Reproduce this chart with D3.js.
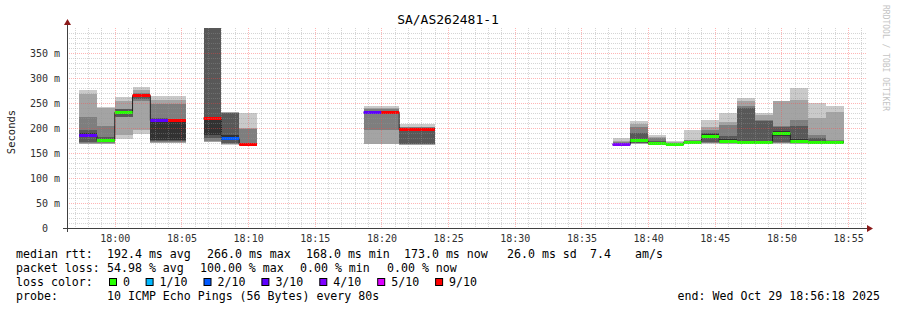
<!DOCTYPE html>
<meta charset="utf-8">
<html>
<script src="https://d3js.org/d3.v7.min.js"></script>
<body style="margin:0;background:#fff">
<div id="chart"></div>
<script>

// plot box (pixels)
var width = 897, height = 310;
var plotL = 67, plotR = 867, plotT = 28, plotB = 228;

// time window and rrd step
var tStart = new Date(2025, 9, 29, 17, 56, 25);
var tEnd = new Date(2025, 9, 29, 18, 56, 25);
var firstStep = new Date(2025, 9, 29, 17, 57, 20);
var stepSec = 80;

// median rtt per step (ms), null = no answer
var medianRtt = [187, 176, 232, 266, 217, 217, null, 221, 181, 168,
  null, null, null, null, null, null,
  232, 232, 199, 199,
  null, null, null, null, null, null, null, null, null, null,
  169, 176, 171, 168, 173, 184, 175, 173, 173, 191, 175, 173, 173];

// lost pings per step (out of 10)
var lossTenths = [3, 0, 0, 9, 3, 9, null, 9, 2, 9,
  null, null, null, null, null, null,
  3, 9, 9, 9,
  null, null, null, null, null, null, null, null, null, null,
  4, 0, 0, 0, 0, 0, 0, 0, 0, 0, 0, 0, 0];

// the 10 sorted ping times per step (ms), drawn as smoke
var pings = [
  [168, 169, 170, 172, 184, 190, 196, 223, 268, 277],
  [168, 169, 170, 172, 175, 178, 183, 204, 240, 243],
  [179, 186, 222, 223, 230, 233, 238, 239, 255, 263],
  [188, 196, 255, 258, 265, 267, 269, 271, 277, 282],
  [170, 171, 173, 175, 177, 214, 220, 249, 256, 264],
  [170, 171, 172, 175, 177, 215, 218, 248, 256, 264],
  null,
  [172, 173, 175, 180, 186, 221, 420, 450, 480, 500],
  [167, 168, 169, 170, 176, 186, 230, 231, 232, 233],
  [167, 168, 168, 168, 168, 169, 169, 199, 201, 230],
  null, null, null, null, null, null,
  [168, 169, 197, 229, 231, 233, 235, 238, 240, 245],
  [168, 169, 197, 229, 231, 233, 235, 238, 241, 245],
  [167, 167, 168, 168, 198, 200, 201, 202, 203, 208],
  [167, 167, 168, 168, 198, 200, 201, 202, 203, 208],
  null, null, null, null, null, null, null, null, null, null,
  [166, 167, 168, 168, 169, 170, 171, 172, 174, 181],
  [168, 169, 170, 171, 172, 178, 190, 203, 209, 215],
  [167, 168, 169, 170, 170, 172, 174, 180, 183, 187],
  [167, 167, 168, 168, 169, 169, 170, 171, 172, 174],
  [168, 169, 170, 171, 172, 174, 175, 176, 177, 196],
  [169, 170, 171, 172, 180, 188, 190, 196, 203, 216],
  [168, 169, 170, 171, 172, 178, 185, 207, 213, 231],
  [168, 169, 170, 171, 172, 174, 240, 244, 254, 261],
  [168, 169, 170, 171, 172, 174, 215, 217, 226, 231],
  [169, 170, 171, 172, 185, 195, 203, 204, 254, 255],
  [168, 169, 170, 171, 172, 178, 204, 216, 256, 281],
  [168, 169, 170, 171, 172, 174, 180, 186, 221, 251],
  [168, 169, 170, 171, 172, 174, 175, 176, 233, 244]
];

// y ticks (ms)
var yTicks = [0, 50, 100, 150, 200, 250, 300, 350];

// loss legend
var lossKeys = [0, 1, 2, 3, 4, 5, 9];
var lossLabels = ["0", "1/10", "2/10", "3/10", "4/10", "5/10", "9/10"];
var lossColors = ["#26ff00", "#00b8ff", "#0059ff", "#5e00ff", "#7e00ff", "#dd00ff", "#ff0000"];

// smoke shades, outer pair first
var smokeShades = ["#cacaca", "#a4a4a4", "#7e7e7e", "#585858", "#323232"];

var mono = "DejaVu Sans Mono";

var svg = d3.select("#chart")
  .append("svg")
    .attr("width", width)
    .attr("height", height)
    .style("display", "block");

svg.append("rect").attr("width", width).attr("height", height).attr("fill", "#ffffff");

var x = d3.scaleTime().domain([tStart, tEnd]).range([plotL, plotR]);
var y = d3.scaleLinear().domain([0, 400]).range([plotB, plotT]);

var lossColor = d3.scaleOrdinal().domain(lossKeys).range(lossColors);

svg.append("clipPath").attr("id", "plotclip")
  .append("rect")
    .attr("x", plotL).attr("y", plotT)
    .attr("width", plotR - plotL).attr("height", plotB - plotT);

var steps = medianRtt.map(function(m, i) {
  var s = new Date(firstStep.getTime() + i * stepSec * 1000);
  var e = new Date(s.getTime() + stepSec * 1000);
  return {start: s, end: e, median: m, loss: lossTenths[i], pings: pings[i]};
});

var plot = svg.append("g").attr("clip-path", "url(#plotclip)");

// smoke: nested pairs (p0,p9) (p1,p8) ... darker toward the middle
smokeShades.forEach(function(shade, i) {
  plot.append("g").selectAll("rect")
    .data(steps.filter(function(d) { return d.pings; }))
    .enter().append("rect")
      .attr("x", function(d) { return x(d.start); })
      .attr("width", function(d) { return x(d.end) - x(d.start); })
      .attr("y", function(d) { return y(d.pings[9 - i]); })
      .attr("height", function(d) { return y(d.pings[i]) - y(d.pings[9 - i]); })
      .attr("fill", shade)
      .attr("shape-rendering", "crispEdges");
});

// black median line with the vertical joins
var medPts = [];
steps.forEach(function(d, i) {
  if (d.median == null) { medPts.push(null); return; }
  medPts.push({t: d.start, v: d.median});
  var nxt = steps[i + 1];
  if (!nxt || nxt.median == null) medPts.push({t: d.end, v: d.median});
});
var medLine = d3.line()
  .defined(function(d) { return d != null; })
  .x(function(d) { return x(d.t); })
  .y(function(d) { return Math.round(y(d.v)) + 0.5; })
  .curve(d3.curveStepAfter);
plot.append("path")
  .attr("d", medLine(medPts))
  .attr("fill", "none")
  .attr("stroke", "#202020")
  .attr("stroke-width", 1);

// coloured median per step (loss colour)
plot.append("g").selectAll("line")
  .data(steps.filter(function(d) { return d.median != null; }))
  .enter().append("line")
    .attr("x1", function(d) { return x(d.start); })
    .attr("x2", function(d) { return x(d.end); })
    .attr("y1", function(d) { return Math.round(y(d.median)) + 0.5; })
    .attr("y2", function(d) { return Math.round(y(d.median)) + 0.5; })
    .attr("stroke", function(d) { return lossColor(d.loss); })
    .attr("stroke-width", 3);

// grid on top
var minorCol = "rgba(150,150,150,0.4)", majorCol = "rgba(255,70,70,0.4)";
var grid = svg.append("g").attr("shape-rendering", "crispEdges");
var minorTimes = d3.timeMinute.range(tStart, tEnd);
grid.selectAll("line.vmin")
  .data(minorTimes.filter(function(t) { return t.getMinutes() % 5 != 0; }))
  .enter().append("line")
    .attr("x1", function(d) { return Math.round(x(d)) + 0.5; })
    .attr("x2", function(d) { return Math.round(x(d)) + 0.5; })
    .attr("y1", plotT).attr("y2", plotB)
    .attr("stroke", minorCol)
    .attr("stroke-dasharray", "1,1");
grid.selectAll("line.vmaj")
  .data(minorTimes.filter(function(t) { return t.getMinutes() % 5 == 0; }))
  .enter().append("line")
    .attr("x1", function(d) { return Math.round(x(d)) + 0.5; })
    .attr("x2", function(d) { return Math.round(x(d)) + 0.5; })
    .attr("y1", plotT).attr("y2", plotB)
    .attr("stroke", majorCol)
    .attr("stroke-dasharray", "1,1");
var hMinor = d3.range(10, 401, 10).filter(function(v) { return v % 50 != 0; });
grid.selectAll("line.hmin")
  .data(hMinor)
  .enter().append("line")
    .attr("x1", plotL).attr("x2", plotR)
    .attr("y1", function(d) { return Math.round(y(d)) + 0.5; })
    .attr("y2", function(d) { return Math.round(y(d)) + 0.5; })
    .attr("stroke", minorCol)
    .attr("stroke-dasharray", "1,1");
grid.selectAll("line.hmaj")
  .data(yTicks.filter(function(v) { return v > 0; }))
  .enter().append("line")
    .attr("x1", plotL).attr("x2", plotR)
    .attr("y1", function(d) { return Math.round(y(d)) + 0.5; })
    .attr("y2", function(d) { return Math.round(y(d)) + 0.5; })
    .attr("stroke", majorCol)
    .attr("stroke-dasharray", "1,1");

// axes lines and arrows
svg.append("line")
  .attr("x1", plotL - 4).attr("x2", plotR + 2)
  .attr("y1", plotB + 0.5).attr("y2", plotB + 0.5)
  .attr("stroke", "#404040");
svg.append("line")
  .attr("x1", plotL + 0.5).attr("x2", plotL + 0.5)
  .attr("y1", plotB + 4).attr("y2", plotT - 5)
  .attr("stroke", "#404040");
svg.append("path")
  .attr("d", "M" + (plotL + 0.5) + "," + (plotT - 9) + "l-3.5,6h7z")
  .attr("fill", "#8b1a1a");
svg.append("path")
  .attr("d", "M" + (plotR + 6) + "," + (plotB + 0.5) + "l-6,-3.5v7z")
  .attr("fill", "#8b1a1a");

// x axis labels
var xAxis = d3.axisBottom(x)
  .ticks(d3.timeMinute.every(5))
  .tickFormat(d3.timeFormat("%H:%M"))
  .tickSize(0)
  .tickPadding(0);
var gx = svg.append("g")
  .attr("transform", "translate(0," + (plotB + 10) + ")")
  .call(xAxis);
gx.select(".domain").remove();
gx.selectAll("text")
  .attr("dy", "0.36em")
  .attr("font-family", mono)
  .attr("font-size", 10)
  .attr("fill", "#303030");

// y axis labels
var yAxis = d3.axisLeft(y)
  .tickValues(yTicks)
  .tickFormat(function(d) { return d == 0 ? "0" : d + " m"; })
  .tickSize(0)
  .tickPadding(0);
var gy = svg.append("g")
  .attr("transform", "translate(" + (plotL - 7) + ",0)")
  .call(yAxis);
gy.select(".domain").remove();
gy.selectAll("text")
  .attr("dy", "0.36em")
  .attr("dx", function(d) { return d == 0 ? -12 : 0; })
  .attr("font-family", mono)
  .attr("font-size", 10)
  .attr("fill", "#303030");

// title
svg.append("text")
  .attr("x", 448).attr("y", 24)
  .attr("text-anchor", "middle")
  .attr("font-family", mono)
  .attr("font-size", 13)
  .attr("fill", "#000")
  .text("SA/AS262481-1");

svg.append("text")
  .attr("transform", "translate(15,132) rotate(-90)")
  .attr("text-anchor", "middle")
  .attr("font-family", mono)
  .attr("font-size", 10.5)
  .attr("fill", "#202020")
  .text("Seconds");

svg.append("text")
  .attr("transform", "translate(883,5) rotate(90)")
  .attr("font-family", mono)
  .attr("font-size", 8)
  .attr("fill", "#c4c4c4")
  .text("RRDTOOL / TOBI OETIKER");

// legend
function legendText(xp, yp, s) {
  svg.append("text")
    .attr("x", xp).attr("y", yp)
    .attr("font-family", mono)
    .attr("font-size", 11.6)
    .attr("fill", "#000")
    .style("white-space", "pre")
    .text(s);
}
legendText(16, 258, "median rtt:");
legendText(107, 258, "192.4 ms avg");
legendText(207, 258, "266.0 ms max");
legendText(306, 258, "168.0 ms min");
legendText(404, 258, "173.0 ms now");
legendText(507, 258, "26.0 ms sd");
legendText(590, 258, "7.4");
legendText(635, 258, "am/s");

legendText(16, 272, "packet loss:");
legendText(107, 272, "54.98 % avg");
legendText(200, 272, "100.00 % max");
legendText(300, 272, "0.00 % min");
legendText(387, 272, "0.00 % now");

legendText(16, 286, "loss color:");
var bx = 109;
lossLabels.forEach(function(lbl, i) {
  svg.append("rect")
    .attr("x", bx + 0.5).attr("y", 278.5)
    .attr("width", 7).attr("height", 7)
    .attr("fill", lossColors[i])
    .attr("stroke", "#000");
  legendText(bx + 14, 286, lbl);
  bx = bx + 14 + lbl.length * 7.1 + 15.5;
});

legendText(16, 300, "probe:");
legendText(107, 300, "10 ICMP Echo Pings (56 Bytes) every 80s");
svg.append("text")
  .attr("x", 880).attr("y", 300)
  .attr("text-anchor", "end")
  .attr("font-family", mono)
  .attr("font-size", 11.6)
  .attr("fill", "#000")
  .text("end: Wed Oct 29 18:56:18 2025");

</script>
</body>
</html>
